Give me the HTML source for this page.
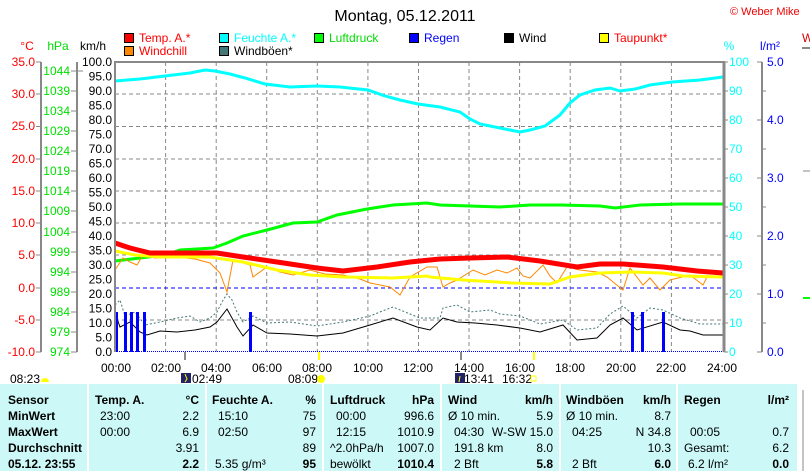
<!DOCTYPE html>
<html><head><meta charset="utf-8"><style>
body{margin:0;background:#fff}
svg{display:block;font-family:"Liberation Sans",sans-serif}
</style></head><body>
<svg width="810" height="471" viewBox="0 0 810 471" xmlns="http://www.w3.org/2000/svg">
<rect width="810" height="471" fill="#fff"/>
<text x="405" y="21" font-size="16" text-anchor="middle" fill="#000">Montag, 05.12.2011</text>
<text x="730" y="15" font-size="11" fill="#e00">© Weber Mike</text>
<!-- legend -->
<g font-size="12">
<rect x="124.5" y="33.5" width="9" height="9" fill="#f00" stroke="#000"/><text x="139" y="42" fill="#f00">Temp. A.*</text>
<rect x="219.5" y="33.5" width="9" height="9" fill="#0ff" stroke="#000"/><text x="234" y="42" fill="#0ff">Feuchte A.*</text>
<rect x="314.5" y="33.5" width="9" height="9" fill="#0f0" stroke="#000"/><text x="329" y="42" fill="#0d0">Luftdruck</text>
<rect x="409.5" y="33.5" width="9" height="9" fill="#00f" stroke="#000"/><text x="424" y="42" fill="#00f">Regen</text>
<rect x="504.5" y="33.5" width="9" height="9" fill="#000" stroke="#000"/><text x="519" y="42" fill="#000">Wind</text>
<rect x="599.5" y="33.5" width="9" height="9" fill="#ff0" stroke="#000"/><text x="614" y="42" fill="#f00">Taupunkt*</text>
<rect x="124.5" y="46.5" width="9" height="9" fill="#f80" stroke="#000"/><text x="139" y="55" fill="#f00">Windchill</text>
<rect x="219.5" y="46.5" width="9" height="9" fill="#477" stroke="#000"/><text x="234" y="55" fill="#000">Windböen*</text>
<text x="27" y="50" fill="#f00" text-anchor="middle">°C</text>
<text x="58" y="50" fill="#0d0" text-anchor="middle">hPa</text>
<text x="93" y="50" fill="#000" text-anchor="middle">km/h</text>
<text x="729" y="50" fill="#0ff" text-anchor="middle">%</text>
<text x="770" y="50" fill="#00f" text-anchor="middle">l/m²</text>
<text x="802" y="42" fill="#d00">W</text>
</g>
<line x1="802" y1="48" x2="810" y2="48" stroke="#888" stroke-width="2"/>
<!-- left axes -->
<g stroke="#888" stroke-width="2">
<line x1="41" y1="62" x2="41" y2="352"/><line x1="77" y1="62" x2="77" y2="352"/>
<line x1="762" y1="62" x2="762" y2="352"/>
</g>
<g stroke="#888" stroke-width="1">
<path d="M36 62h5M36 94h5M36 126.5h5M36 159h5M36 191h5M36 223h5M36 255h5M36 288h5M36 320h5M36 352h5"/>
<path d="M71 71h12M71 91h6M71 111h6M71 131h6M71 151h6M71 171h6M71 191h6M71 211h6M71 232h6M71 252h6M71 272h6M71 292h6M71 312h6M71 332h6M71 352h6"/>
<path d="M757 62h5M757 120h5M757 178h5M757 236h5M757 294h5M757 352h5M762 91h4M762 149h4M762 207h4M762 265h4M762 323h4"/>
<path d="M724 62h4M724 91h4M724 120h4M724 149h4M724 178h4M724 207h4M724 236h4M724 265h4M724 294h4M724 323h4M724 352h4"/>
</g>
<g font-size="12" fill="#f00" text-anchor="end">
<text x="35" y="66">35.0</text><text x="35" y="98">30.0</text><text x="35" y="130">25.0</text><text x="35" y="163">20.0</text><text x="35" y="195">15.0</text><text x="35" y="227">10.0</text><text x="35" y="259">5.0</text><text x="35" y="292">0.0</text><text x="35" y="324">-5.0</text><text x="35" y="356">-10.0</text>
</g>
<g font-size="12" fill="#0d0" text-anchor="end">
<text x="70" y="75">1044</text><text x="70" y="95">1039</text><text x="70" y="115">1034</text><text x="70" y="135">1029</text><text x="70" y="155">1024</text><text x="70" y="175">1019</text><text x="70" y="195">1014</text><text x="70" y="215">1009</text><text x="70" y="236">1004</text><text x="70" y="256">999</text><text x="70" y="276">994</text><text x="70" y="296">989</text><text x="70" y="316">984</text><text x="70" y="336">979</text><text x="70" y="356">974</text>
</g>
<g font-size="12" fill="#000" text-anchor="end">
<text x="112" y="66">100.0</text><text x="112" y="80.5">95.0</text><text x="112" y="95">90.0</text><text x="112" y="109.5">85.0</text><text x="112" y="124">80.0</text><text x="112" y="138.5">75.0</text><text x="112" y="153">70.0</text><text x="112" y="167.5">65.0</text><text x="112" y="182">60.0</text><text x="112" y="196.5">55.0</text><text x="112" y="211">50.0</text><text x="112" y="225.5">45.0</text><text x="112" y="240">40.0</text><text x="112" y="254.5">35.0</text><text x="112" y="269">30.0</text><text x="112" y="283.5">25.0</text><text x="112" y="298">20.0</text><text x="112" y="312.5">15.0</text><text x="112" y="327">10.0</text><text x="112" y="341.5">5.0</text><text x="112" y="356">0.0</text>
</g>
<g font-size="12" fill="#0ff">
<text x="729" y="66">100</text><text x="729" y="95">90</text><text x="729" y="124">80</text><text x="729" y="153">70</text><text x="729" y="182">60</text><text x="729" y="211">50</text><text x="729" y="240">40</text><text x="729" y="269">30</text><text x="729" y="298">20</text><text x="729" y="327">10</text><text x="729" y="356">0</text>
</g>
<g font-size="12" fill="#00f">
<text x="767" y="66">5.0</text><text x="767" y="124">4.0</text><text x="767" y="182">3.0</text><text x="767" y="240">2.0</text><text x="767" y="298">1.0</text><text x="767" y="356">0.0</text>
</g>
<!-- grid -->
<g stroke="#888" stroke-width="1" stroke-dasharray="4,3">
<path d="M115 94H723M115 126.5H723M115 159H723M115 191H723M115 223H723M115 255H723M115 320H723"/>
<path d="M165.6 62V352M216.2 62V352M266.7 62V352M317.3 62V352M367.9 62V352M418.5 62V352M469 62V352M519.6 62V352M570.2 62V352M620.8 62V352M671.4 62V352"/>
</g>
<line x1="115" y1="288" x2="723" y2="288" stroke="#00f" stroke-dasharray="4,3"/>
<!-- series -->
<polyline fill="none" stroke="#0ff" stroke-width="3" points="115,81 140,79 165,76 190,73 205,70 215,71 230,74 245,78 265,84 290,87 317,86 340,87 368,90 385,96 400,100 418,104 440,107 460,112 470,119 480,124 495,127 510,130 520,132 530,130 545,126 560,115 570,103 580,95 595,90 610,88 620,91 635,89 650,85 672,82 700,80 723,77"/>
<polyline fill="none" stroke="#0f0" stroke-width="3" points="115,261 140,258 165,255 180,250 213,248 227,243 243,236 267,230 293,223 317,222 337,215 367,209 393,205 427,203 440,205 470,206 500,207 530,205 560,205 600,206 615,208 640,205 680,204 723,204"/>
<polyline fill="none" stroke="#f80" stroke-width="1" points="115,270 123,258 130,262 137,265 143,255 155,258 177,257 195,259 210,263 220,273 227,292 233,260 250,265 253,277 267,267 280,272 293,275 310,270 325,274 343,275 360,279 370,283 390,287 400,295 410,277 427,267 437,267 443,287 450,283 457,280 473,270 485,275 497,270 507,273 517,268 523,276 530,278 543,265 550,276 557,283 567,267 580,270 597,272 607,277 618,286 623,290 630,268 643,285 650,278 660,290 670,280 690,275 703,285 708,275"/>
<polyline fill="none" stroke="#ff0" stroke-width="3" points="115,251 135,255 160,257 210,257 243,262 277,270 310,275 343,277 393,278 427,276 430,277 463,280 513,283 550,284 570,277 600,273 630,272 663,273 683,276 723,277"/>
<polyline fill="none" stroke="#f00" stroke-width="5" points="115,243 130,248 150,253 177,253 217,253 243,257 277,262 317,268 343,271 377,267 410,262 440,259 470,258 507,257 540,261 577,267 600,264 623,264 663,267 697,271 723,273"/>
<polyline fill="none" stroke="#477" stroke-width="1" stroke-dasharray="2,2" points="115,305 120,300 125,316 135,312 145,325 160,322 177,318 190,316 200,322 210,318 217,312 222,302 227,294 232,300 237,312 243,322 253,316 267,323 290,322 317,326 343,322 370,316 385,310 393,307 410,314 420,318 440,318 443,308 457,305 470,312 490,310 500,314 520,316 540,324 563,320 577,330 597,328 610,314 623,306 637,318 650,308 663,310 680,318 700,324 723,324"/>
<polyline fill="none" stroke="#000" stroke-width="1" points="115,313 120,327 130,322 140,332 147,335 160,331 177,332 195,330 210,327 217,322 227,309 237,327 243,336 253,325 267,333 290,334 317,336 343,333 370,325 393,318 417,327 430,330 443,318 457,322 475,323 497,325 520,328 540,332 563,325 577,340 597,338 610,325 623,318 637,330 663,322 680,330 690,331 703,335 723,335"/>
<g fill="#00f">
<rect x="115" y="312" width="3" height="40"/><rect x="124" y="312" width="3" height="40"/><rect x="130" y="312" width="3" height="40"/><rect x="136" y="312" width="3" height="40"/><rect x="143" y="312" width="3" height="40"/><rect x="249" y="312" width="3" height="40"/><rect x="631" y="312" width="3" height="40"/><rect x="641" y="312" width="3" height="40"/><rect x="662" y="312" width="3" height="40"/>
</g>
<line x1="115" y1="351.5" x2="723" y2="351.5" stroke="#00f" stroke-dasharray="1,1"/>
<!-- frame -->
<path d="M115 352V62H724V352" fill="none" stroke="#888" stroke-width="2"/>
<line x1="724" y1="62" x2="724" y2="352" stroke="#888" stroke-width="3"/>
<line x1="185" y1="352" x2="185" y2="360" stroke="#888" stroke-width="2"/>
<line x1="461" y1="352" x2="461" y2="360" stroke="#888" stroke-width="2"/>
<line x1="319" y1="352" x2="319" y2="360" stroke="#ff0" stroke-width="2"/>
<line x1="534" y1="352" x2="534" y2="360" stroke="#ff0" stroke-width="2"/>
<g font-size="12" fill="#000" text-anchor="middle">
<text x="116" y="372">00:00</text><text x="166" y="372">02:00</text><text x="216" y="372">04:00</text><text x="267" y="372">06:00</text><text x="317" y="372">08:00</text><text x="368" y="372">10:00</text><text x="418" y="372">12:00</text><text x="469" y="372">14:00</text><text x="520" y="372">16:00</text><text x="570" y="372">18:00</text><text x="621" y="372">20:00</text><text x="671" y="372">22:00</text><text x="722" y="372">24:00</text>
</g>
<g font-size="12" fill="#000">
<text x="10" y="383">08:23</text><text x="192" y="383">02:49</text><text x="288" y="383">08:09</text><text x="464" y="383">13:41</text><text x="502" y="383">16:32</text>
</g>
<path d="M41 382a4 4 0 0 1 8 0z" fill="#ff0"/>
<rect x="181" y="373" width="10" height="10" fill="#226"/><path d="M185 374l2 5-2 3" stroke="#ff0" fill="none"/>
<circle cx="321" cy="379" r="4" fill="#ff0"/>
<rect x="455" y="373" width="10" height="10" fill="#226"/><path d="M459 382l1-6" stroke="#ff0"/>
<rect x="531" y="376" width="5" height="5" fill="none" stroke="#ff0"/>
<!-- table -->
<rect x="0" y="384" width="797" height="87" fill="#ccf8f8"/>
<g stroke="#fff" stroke-width="2">
<line x1="88" y1="384" x2="88" y2="471"/><line x1="206" y1="384" x2="206" y2="471"/><line x1="323" y1="384" x2="323" y2="471"/><line x1="441" y1="384" x2="441" y2="471"/><line x1="560" y1="384" x2="560" y2="471"/><line x1="677" y1="384" x2="677" y2="471"/>
</g>
<g font-size="12" fill="#000">
<g font-weight="bold">
<text x="8" y="404">Sensor</text><text x="8" y="420">MinWert</text><text x="8" y="436">MaxWert</text><text x="8" y="452">Durchschnitt</text><text x="8" y="468">05.12. 23:55</text>
<text x="95" y="404">Temp. A.</text><text x="212" y="404">Feuchte A.</text><text x="330" y="404">Luftdruck</text><text x="448" y="404">Wind</text><text x="566" y="404">Windböen</text><text x="684" y="404">Regen</text>
</g>
<g font-weight="bold" text-anchor="end">
<text x="199" y="404">°C</text><text x="316" y="404">%</text><text x="434" y="404">hPa</text><text x="553" y="404">km/h</text><text x="671" y="404">km/h</text><text x="789" y="404">l/m²</text>
<text x="199" y="468">2.2</text><text x="316" y="468">95</text><text x="434" y="468">1010.4</text><text x="553" y="468">5.8</text><text x="671" y="468">6.0</text><text x="789" y="468">0.0</text>
</g>
<text x="100" y="420">23:00</text><text x="100" y="436">00:00</text>
<text x="218" y="420">15:10</text><text x="218" y="436">02:50</text><text x="215" y="468">5.35 g/m³</text>
<text x="336" y="420">00:00</text><text x="336" y="436">12:15</text><text x="330" y="452">^2.0hPa/h</text><text x="330" y="468">bewölkt</text>
<text x="448" y="420">Ø 10 min.</text><text x="454" y="436">04:30</text><text x="454" y="452">191.8 km</text><text x="454" y="468">2 Bft</text>
<text x="566" y="420">Ø 10 min.</text><text x="572" y="436">04:25</text><text x="572" y="468">2 Bft</text>
<text x="690" y="436">00:05</text><text x="684" y="452">Gesamt:</text><text x="688" y="468">6.2 l/m²</text>
<g text-anchor="end">
<text x="199" y="420">2.2</text><text x="199" y="436">6.9</text><text x="199" y="452">3.91</text>
<text x="316" y="420">75</text><text x="316" y="436">97</text><text x="316" y="452">89</text>
<text x="434" y="420">996.6</text><text x="434" y="436">1010.9</text><text x="434" y="452">1007.0</text>
<text x="553" y="420">5.9</text><text x="553" y="436">W-SW 15.0</text><text x="553" y="452">8.0</text>
<text x="671" y="420">8.7</text><text x="671" y="436">N 34.8</text><text x="671" y="452">10.3</text>
<text x="789" y="436">0.7</text><text x="789" y="452">6.2</text>
</g>
</g>
<line x1="803" y1="171" x2="810" y2="171" stroke="#888"/>
<line x1="803" y1="298" x2="810" y2="298" stroke="#0f0" stroke-width="2"/>
<line x1="803" y1="390" x2="803" y2="471" stroke="#888"/>
</svg>
</body></html>
